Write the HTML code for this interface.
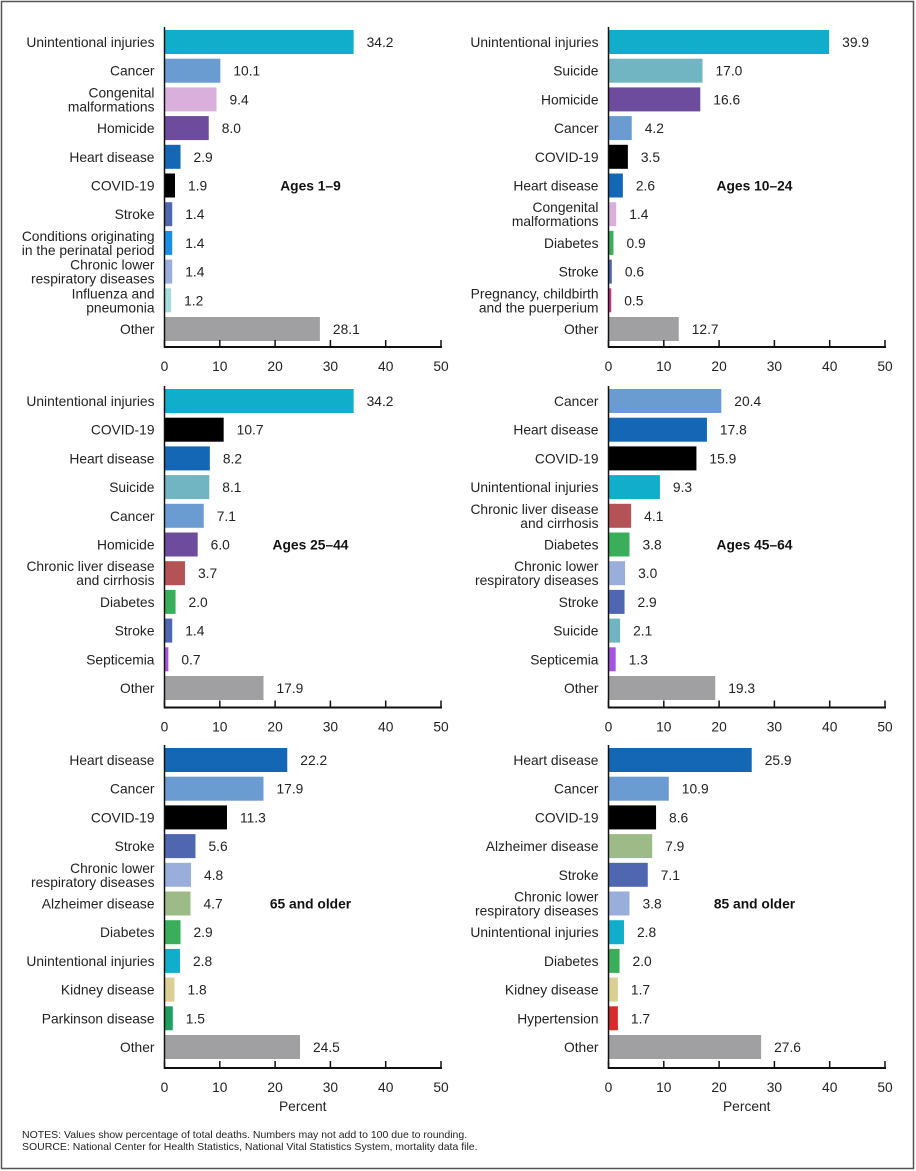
<!DOCTYPE html>
<html><head><meta charset="utf-8"><style>
html,body{margin:0;padding:0;background:#fff}
svg{display:block;font-family:"Liberation Sans",Arial,sans-serif}
</style></head><body>
<svg id="chart" width="916" height="1171" viewBox="0 0 916 1171">
<rect x="1.5" y="1.5" width="912" height="1167" fill="#fff" stroke="#555" stroke-width="1.5"/>
<text x="22" y="1138" font-size="10.5" fill="#222">NOTES: Values show percentage of total deaths. Numbers may not add to 100 due to rounding.</text>
<text x="22" y="1150" font-size="10.5" fill="#222">SOURCE: National Center for Health Statistics, National Vital Statistics System, mortality data file.</text>
</svg>
<script>
const C={inj:'#10aecb',can:'#6a9bd1',cong:'#d9b0dc',hom:'#6d4c9e',heart:'#1467b4',cov:'#000',str:'#4f67b1',peri:'#1a8fe6',clrd:'#9aaedb',flu:'#a6dcdc',oth:'#a0a0a2',sui:'#72b5c2',dia:'#3aae5a',preg:'#d0308a',liv:'#b35356',sep:'#a455e0',alz:'#9cbb86',kid:'#dccf93',park:'#1f9e5f',hyp:'#d72c2c'};
const titles=['Ages 1–9','Ages 10–24','Ages 25–44','Ages 45–64','65 and older','85 and older'];
const cats1=['Unintentional injuries','Cancer','Congenital|malformations','Homicide','Heart disease','COVID-19','Stroke','Conditions originating|in the perinatal period','Chronic lower|respiratory diseases','Influenza and|pneumonia','Other'];
const vals1=[34.2,10.1,9.4,8.0,2.9,1.9,1.4,1.4,1.4,1.2,28.1];
const col1=['inj','can','cong','hom','heart','cov','str','peri','clrd','flu','oth'];
const cats2=['Unintentional injuries','Suicide','Homicide','Cancer','COVID-19','Heart disease','Congenital|malformations','Diabetes','Stroke','Pregnancy, childbirth|and the puerperium','Other'];
const vals2=[39.9,17.0,16.6,4.2,3.5,2.6,1.4,0.9,0.6,0.5,12.7];
const col2=['inj','sui','hom','can','cov','heart','cong','dia','str','preg','oth'];
const cats3=['Unintentional injuries','COVID-19','Heart disease','Suicide','Cancer','Homicide','Chronic liver disease|and cirrhosis','Diabetes','Stroke','Septicemia','Other'];
const vals3=[34.2,10.7,8.2,8.1,7.1,6.0,3.7,2.0,1.4,0.7,17.9];
const col3=['inj','cov','heart','sui','can','hom','liv','dia','str','sep','oth'];
const cats4=['Cancer','Heart disease','COVID-19','Unintentional injuries','Chronic liver disease|and cirrhosis','Diabetes','Chronic lower|respiratory diseases','Stroke','Suicide','Septicemia','Other'];
const vals4=[20.4,17.8,15.9,9.3,4.1,3.8,3.0,2.9,2.1,1.3,19.3];
const col4=['can','heart','cov','inj','liv','dia','clrd','str','sui','sep','oth'];
const cats5=['Heart disease','Cancer','COVID-19','Stroke','Chronic lower|respiratory diseases','Alzheimer disease','Diabetes','Unintentional injuries','Kidney disease','Parkinson disease','Other'];
const vals5=[22.2,17.9,11.3,5.6,4.8,4.7,2.9,2.8,1.8,1.5,24.5];
const col5=['heart','can','cov','str','clrd','alz','dia','inj','kid','park','oth'];
const cats6=['Heart disease','Cancer','COVID-19','Alzheimer disease','Stroke','Chronic lower|respiratory diseases','Unintentional injuries','Diabetes','Kidney disease','Hypertension','Other'];
const vals6=[25.9,10.9,8.6,7.9,7.1,3.8,2.8,2.0,1.7,1.7,27.6];
const col6=['heart','can','cov','alz','str','clrd','inj','dia','kid','hyp','oth'];
const ticks=[0,10,20,30,40,50];

const NS='http://www.w3.org/2000/svg';
const svg=document.getElementById('chart');
function mk(t,a,p){const e=document.createElementNS(NS,t);for(const k in a)e.setAttribute(k,a[k]);(p||svg).appendChild(e);return e;}
const panels=[[cats1,vals1,col1],[cats2,vals2,col2],[cats3,vals3,col3],[cats4,vals4,col4],[cats5,vals5,col5],[cats6,vals6,col6]];
panels.forEach((p,i)=>{
  const [cats,vals,cols]=p;
  const x0=i%2?608.5:164.5, row=Math.floor(i/2);
  const first=42+row*359, axisY=347+row*360.5;
  const xs=v=>x0+v*5.53;
  const step=28.7;
  const g=mk('g',{});
  
  
  cats.forEach((c,j)=>{
    const cy=first+step*j;
    const r=mk('rect',{x:x0+0.5,y:cy-12,width:Math.max(0,xs(vals[j])-x0-0.5),height:24,fill:C[cols[j]]},g);
    
    
    const lines=c.split('|');
    const t=mk('text',{x:x0-10,'text-anchor':'end','font-size':13.8,fill:'#222'},g);
    
    
    lines.forEach((l,k)=>{const ts=mk('tspan',{x:x0-10,y:cy+5+(k-(lines.length-1)/2)*14},t);ts.textContent=l;});
    const v=mk('text',{x:xs(vals[j])+13,y:cy+5,'font-size':13.8,fill:'#222'},g);
    
    
    v.textContent=vals[j].toFixed(1);
  });
  mk('line',{x1:x0,y1:first-15,x2:x0,y2:axisY+1,stroke:'#111','stroke-width':1.5},g);
  mk('line',{x1:x0,y1:axisY,x2:xs(50)+1,y2:axisY,stroke:'#111','stroke-width':2},g);
  ticks.forEach(tv=>{
    mk('line',{x1:xs(tv),y1:axisY-7,x2:xs(tv),y2:axisY,stroke:'#111','stroke-width':1.5},g);
    const tl=mk('text',{x:xs(tv),y:axisY+24,'text-anchor':'middle','font-size':13.8,fill:'#222'},g);
    
    
    tl.textContent=tv;
  });
  const tt=mk('text',{x:x0+146,y:first+step*5+5,'text-anchor':'middle','font-size':13.8,'font-weight':'bold',fill:'#111'},g);
  
  
  tt.textContent=titles[i];
  if(row===2){
    const xt=mk('text',{x:xs(25),y:axisY+43,'text-anchor':'middle','font-size':13.8,fill:'#222'},g);
    
    
    xt.textContent='Percent';
  }
});
</script>
</body></html>
